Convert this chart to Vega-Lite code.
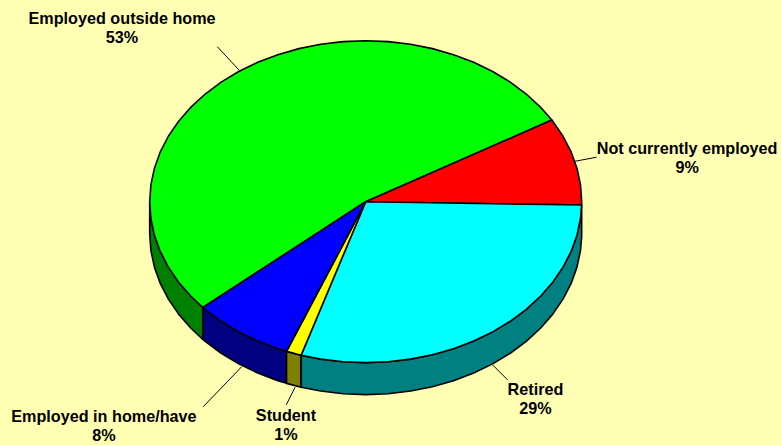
{"$schema":"https://vega.github.io/schema/vega-lite/v6.json","width":781,"height":445,"padding":0,"autosize":{"type":"none"},"background":"#FFFFB3","config":{"view":{"stroke":null}},"projection":{"type":"identity","reflectY":true,"scale":2.16,"translate":[365.7,201.7]},"layer":[{"data":{"values":[
{"type":"Feature","properties":{"category":"Employed outside home","share":53,"part":"green side"},"geometry":{"type":"Polygon","coordinates":[[[-100,0],[-99.45,-7.79],[-97.81,-15.49],[-95.11,-23.02],[-91.35,-30.3],[-86.6,-37.25],[-80.9,-43.79],[-75.36,-48.98],[-75.36,-63.78],[-80.9,-58.59],[-86.6,-52.05],[-91.35,-45.1],[-95.11,-37.82],[-97.81,-30.29],[-99.45,-22.59],[-100,-14.8],[-100,0]]]}},
{"type":"Feature","properties":{"category":"Employed in home/have","share":8,"part":"blue side"},"geometry":{"type":"Polygon","coordinates":[[[-75.36,-48.98],[-74.31,-49.85],[-66.91,-55.36],[-58.78,-60.27],[-50,-64.52],[-40.67,-68.06],[-36.65,-69.3],[-36.65,-84.1],[-40.67,-82.86],[-50,-79.32],[-58.78,-75.07],[-66.91,-70.16],[-74.31,-64.65],[-75.36,-63.78],[-75.36,-48.98]]]}},
{"type":"Feature","properties":{"category":"Student","share":1,"part":"yellow side"},"geometry":{"type":"Polygon","coordinates":[[[-36.65,-69.3],[-29.9,-71.1],[-29.9,-85.9],[-36.65,-84.1],[-36.65,-69.3]]]}},
{"type":"Feature","properties":{"category":"Retired","share":29,"part":"cyan side"},"geometry":{"type":"Polygon","coordinates":[[[-29.9,-71.1],[-20.79,-72.87],[-10.45,-74.09],[0,-74.5],[10.45,-74.09],[20.79,-72.87],[30.9,-70.86],[40.67,-68.06],[50,-64.52],[58.78,-60.27],[66.91,-55.36],[74.31,-49.85],[80.9,-43.79],[86.6,-37.25],[91.35,-30.3],[95.11,-23.02],[97.81,-15.49],[99.45,-7.79],[99.98,-1.56],[99.98,-16.36],[99.45,-22.59],[97.81,-30.29],[95.11,-37.82],[91.35,-45.1],[86.6,-52.05],[80.9,-58.59],[74.31,-64.65],[66.91,-70.16],[58.78,-75.07],[50,-79.32],[40.67,-82.86],[30.9,-85.66],[20.79,-87.67],[10.45,-88.89],[0,-89.3],[-10.45,-88.89],[-20.79,-87.67],[-29.9,-85.9],[-29.9,-71.1]]]}},
{"type":"Feature","properties":{"category":"Employed outside home","share":53,"part":"green"},"geometry":{"type":"Polygon","coordinates":[[[0,0],[86.16,37.81],[80.9,43.79],[74.31,49.85],[66.91,55.36],[58.78,60.27],[50,64.52],[40.67,68.06],[30.9,70.86],[20.79,72.87],[10.45,74.09],[0,74.5],[-10.45,74.09],[-20.79,72.87],[-30.9,70.86],[-40.67,68.06],[-50,64.52],[-58.78,60.27],[-66.91,55.36],[-74.31,49.85],[-80.9,43.79],[-86.6,37.25],[-91.35,30.3],[-95.11,23.02],[-97.81,15.49],[-99.45,7.79],[-100,0],[-99.45,-7.79],[-97.81,-15.49],[-95.11,-23.02],[-91.35,-30.3],[-86.6,-37.25],[-80.9,-43.79],[-75.36,-48.98],[0,0]]]}},
{"type":"Feature","properties":{"category":"Not currently employed","share":9,"part":"red"},"geometry":{"type":"Polygon","coordinates":[[[0,0],[99.98,-1.56],[100,0],[99.45,7.79],[97.81,15.49],[95.11,23.02],[91.35,30.3],[86.6,37.25],[86.16,37.81],[0,0]]]}},
{"type":"Feature","properties":{"category":"Retired","share":29,"part":"cyan"},"geometry":{"type":"Polygon","coordinates":[[[0,0],[-29.9,-71.1],[-20.79,-72.87],[-10.45,-74.09],[0,-74.5],[10.45,-74.09],[20.79,-72.87],[30.9,-70.86],[40.67,-68.06],[50,-64.52],[58.78,-60.27],[66.91,-55.36],[74.31,-49.85],[80.9,-43.79],[86.6,-37.25],[91.35,-30.3],[95.11,-23.02],[97.81,-15.49],[99.45,-7.79],[99.98,-1.56],[0,0]]]}},
{"type":"Feature","properties":{"category":"Student","share":1,"part":"yellow"},"geometry":{"type":"Polygon","coordinates":[[[0,0],[-36.65,-69.3],[-29.9,-71.1],[0,0]]]}},
{"type":"Feature","properties":{"category":"Employed in home/have","share":8,"part":"blue"},"geometry":{"type":"Polygon","coordinates":[[[0,0],[-75.36,-48.98],[-74.31,-49.85],[-66.91,-55.36],[-58.78,-60.27],[-50,-64.52],[-40.67,-68.06],[-36.65,-69.3],[0,0]]]}}
]},"mark":{"type":"geoshape","stroke":"#000000","strokeWidth":1.6,"strokeJoin":"round"},"encoding":{"color":{"field":"properties.part","type":"nominal","legend":null,"scale":{"domain":["green","red","cyan","yellow","blue","green side","cyan side","yellow side","blue side"],"range":["#00FF00","#FF0000","#00FFFF","#FFFF00","#0000FF","#008000","#008080","#808000","#000080"]}}}},
{"data":{"values":[
{"type":"Feature","properties":{"category":"Employed outside home"},"geometry":{"type":"LineString","coordinates":[[-68.7,71.76],[-58.6,60.9]]}},
{"type":"Feature","properties":{"category":"Not currently employed"},"geometry":{"type":"LineString","coordinates":[[96.9,18.7],[106.9,20.6]]}},
{"type":"Feature","properties":{"category":"Retired"},"geometry":{"type":"LineString","coordinates":[[58.8,-75.6],[65.7,-82.5]]}},
{"type":"Feature","properties":{"category":"Student"},"geometry":{"type":"LineString","coordinates":[[-32.7,-85.9],[-36.8,-94.1]]}},
{"type":"Feature","properties":{"category":"Employed in home/have"},"geometry":{"type":"LineString","coordinates":[[-57.4,-76.4],[-75.2,-94.9]]}}
]},"mark":{"type":"geoshape","filled":false,"stroke":"#000000","strokeWidth":1}},
{"data":{"values":[
{"label":"Employed outside home\n53%","lon":-112.8,"lat":84.6},
{"label":"Not currently employed\n9%","lon":148.8,"lat":24.4},
{"label":"Retired\n29%","lon":78.6,"lat":-87.2},
{"label":"Student\n1%","lon":-36.9,"lat":-99.2},
{"label":"Employed in home/have\n8%","lon":-121.2,"lat":-99.7}
]},"mark":{"type":"text","font":"Liberation Sans","fontWeight":"bold","fontSize":16.2,"lineBreak":"\n","lineHeight":19,"align":"center","baseline":"middle","color":"#000000"},"encoding":{"longitude":{"field":"lon","type":"quantitative"},"latitude":{"field":"lat","type":"quantitative"},"text":{"field":"label","type":"nominal"}}}
]}
